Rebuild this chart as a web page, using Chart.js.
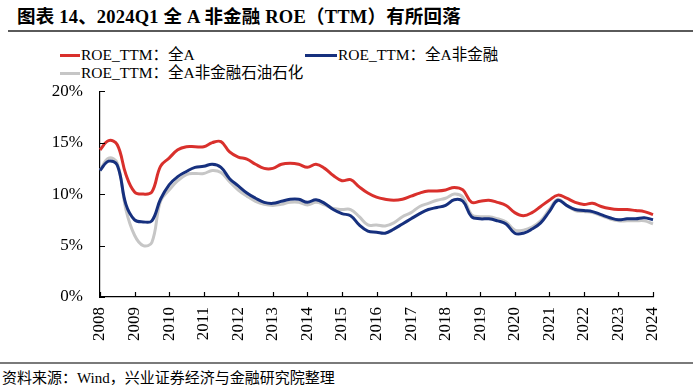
<!DOCTYPE html>
<html>
<head>
<meta charset="utf-8">
<script src="https://cdn.jsdelivr.net/npm/chart.js@4"></script>
<style>
  body { margin: 0; width: 700px; height: 385px; background: #fff; position: relative; overflow: hidden;
         font-family: "Liberation Serif", "Noto Sans CJK SC", serif; color: #000; }
  #title { position: absolute; left: 17px; top: 2px; font-size: 18.5px; font-weight: bold; letter-spacing: 0.2px; }
  #rule1 { position: absolute; left: 8px; top: 30px; width: 685px; height: 2px; background: #5a5a5a; }
  #rule2 { position: absolute; left: 0; top: 362px; width: 693px; height: 2px; background: #7a7a7a; }
  #source { position: absolute; left: 2px; top: 366px; font-size: 15px; }
  .leg { position: absolute; font-size: 15.5px; white-space: nowrap; line-height: 18px; }
  .leg span.sw { display: inline-block; height: 3px; vertical-align: middle; margin-right: 1px; position: relative; top: -1px; }
  #wrap { position: absolute; left: 0; top: 64px; width: 700px; height: 298px; }
</style>
</head>
<body>
<div id="title">图表 14、2024Q1 全 A 非金融 ROE（TTM）有所回落</div>
<div id="rule1"></div>
<div id="legend"></div>
<div id="wrap"><canvas id="roeChart"></canvas></div>
<div id="rule2"></div>
<div id="source">资料来源：Wind，兴业证券经济与金融研究院整理</div>
<script>
const years = ['2008', '2009', '2010', '2011', '2012', '2013', '2014', '2015', '2016',
    '2017', '2018', '2019', '2020', '2021', '2022', '2023', '2024'];

// quarterly ROE (TTM), 2008Q1 .. 2024Q1, %
const roeAll = [
    14.3, 15.2, 14.8, 11.9, 10.2, 10.0, 10.2, 12.7,
    13.5, 14.3, 14.6, 14.6, 14.6, 15.0, 15.1, 14.1,
    13.6, 13.4, 12.9, 12.5, 12.5, 12.9, 13.0, 12.9,
    12.6, 12.9, 12.5, 11.8, 11.3, 11.4, 10.7, 10.1,
    9.7, 9.5, 9.4, 9.5, 9.8, 10.1, 10.3, 10.3,
    10.4, 10.65, 10.4, 9.2, 9.3, 9.4, 9.2, 8.9,
    8.2, 7.9, 8.2, 8.8, 9.4, 9.9, 9.6, 9.2,
    9.0, 9.1, 8.8, 8.6, 8.5, 8.5, 8.4, 8.3,
    8.0
];
const roeExFin = [
    12.3, 13.2, 12.8, 9.0, 7.5, 7.3, 7.4, 9.5,
    10.9, 11.7, 12.2, 12.6, 12.7, 12.9, 12.6, 11.5,
    10.8, 10.1, 9.6, 9.2, 9.1, 9.3, 9.5, 9.5,
    9.2, 9.45, 9.1, 8.5, 8.1, 7.9, 7.0, 6.4,
    6.3, 6.2, 6.6, 7.1, 7.6, 8.1, 8.5, 8.7,
    8.9, 9.45, 9.3, 7.8, 7.6, 7.6, 7.4, 7.1,
    6.2, 6.2, 6.6, 7.2, 8.3, 9.4, 8.9, 8.5,
    8.4, 8.3, 8.0, 7.7, 7.5, 7.6, 7.6, 7.7,
    7.5
];
const roeExFinOil = [
    12.3, 13.5, 13.0, 8.5, 6.0, 5.0, 5.3, 9.3,
    10.4, 11.3, 11.9, 12.0, 12.0, 12.3, 12.1, 11.2,
    10.4, 9.8, 9.3, 9.0, 8.9, 9.0, 9.2, 9.2,
    8.95, 9.2, 8.95, 8.6, 8.5, 8.5, 7.8, 7.0,
    7.0, 6.9, 7.2, 7.8, 8.2, 8.8, 9.1, 9.4,
    9.6, 10.0, 9.7, 8.0, 7.8, 7.8, 7.6, 7.3,
    6.5, 6.5, 6.8, 7.4, 8.5, 9.5, 8.9, 8.4,
    8.3, 8.2, 7.9, 7.6, 7.4, 7.4, 7.4, 7.4,
    7.1
];
const seriesNames = ['ROE_TTM：全A', 'ROE_TTM：全A非金融', 'ROE_TTM：全A非金融石油石化'];
const seriesColors = ['#d9302c', '#16307e', '#c6c6c6'];

// one label per quarter, year shown on Q1
const labels = [];
years.forEach((y, i) => {
    const n = i === years.length - 1 ? 1 : 4;
    for (let q = 1; q <= n; q++) labels.push(y + 'Q' + q);
});

// html legend
const legendPos = [[60, 46, 20], [305, 46, 32], [60, 64, 20]];
const legendEl = document.getElementById('legend');
seriesNames.forEach((name, i) => {
    const d = document.createElement('div');
    d.className = 'leg';
    d.style.left = legendPos[i][0] + 'px';
    d.style.top = legendPos[i][1] + 'px';
    const sw = document.createElement('span');
    sw.className = 'sw';
    sw.style.width = legendPos[i][2] + 'px';
    sw.style.background = seriesColors[i];
    d.appendChild(sw);
    d.appendChild(document.createTextNode(name));
    legendEl.appendChild(d);
});

// small inward tick marks on both axes
const innerTicks = {
    id: 'innerTicks',
    afterDraw(chart) {
        const { ctx, scales: { x, y }, chartArea } = chart;
        ctx.save();
        ctx.strokeStyle = '#000';
        ctx.lineWidth = 1.2;
        ctx.beginPath();
        y.ticks.forEach((t) => {
            const py = Math.round(y.getPixelForValue(t.value)) + 0.5;
            ctx.moveTo(chartArea.left, py);
            ctx.lineTo(chartArea.left + 5, py);
        });
        labels.forEach((l, i) => {
            if (i % 4 !== 0) return;
            const px = Math.round(x.getPixelForValue(i)) + 0.5;
            ctx.moveTo(px, chartArea.bottom);
            ctx.lineTo(px, chartArea.bottom - 5);
        });
        ctx.stroke();
        ctx.restore();
    }
};

Chart.defaults.font.family = '"Liberation Serif", "Times New Roman", serif';
Chart.defaults.color = '#000';

const ctx = document.getElementById('roeChart').getContext('2d');
const roeChart = new Chart(ctx, {
    type: 'line',
    data: {
        labels: labels,
        datasets: [roeAll, roeExFin, roeExFinOil].map((data, i) => ({
            label: seriesNames[i],
            data: data,
            borderColor: seriesColors[i],
            borderWidth: 3,
            pointRadius: 0,
            tension: 0.4,
            fill: false
        }))
    },
    options: {
        responsive: true,
        maintainAspectRatio: false,
        animation: false,
        layout: { padding: { top: 0, right: 47, left: 0, bottom: 0 } },
        plugins: {
            legend: { display: false },
            tooltip: { enabled: false }
        },
        scales: {
            x: {
                grid: { display: false, drawTicks: false },
                border: { display: true, color: '#000', width: 1.2 },
                afterFit: (s) => { s.height = 65; },
                ticks: {
                    autoSkip: false,
                    maxRotation: 90,
                    minRotation: 90,
                    padding: 10,
                    font: { size: 17 },
                    callback: function (v, i) {
                        return i % 4 === 0 ? labels[i].slice(0, 4) : '';
                    }
                }
            },
            y: {
                min: 0,
                max: 20,
                grid: { display: false, drawTicks: false },
                border: { display: true, color: '#000', width: 1.2 },
                afterFit: (s) => { s.width = 100; },
                ticks: {
                    stepSize: 5,
                    padding: 17,
                    font: { size: 17 },
                    callback: (v) => v + '%'
                }
            }
        }
    },
    plugins: [innerTicks]
});
</script>
</body>
</html>
